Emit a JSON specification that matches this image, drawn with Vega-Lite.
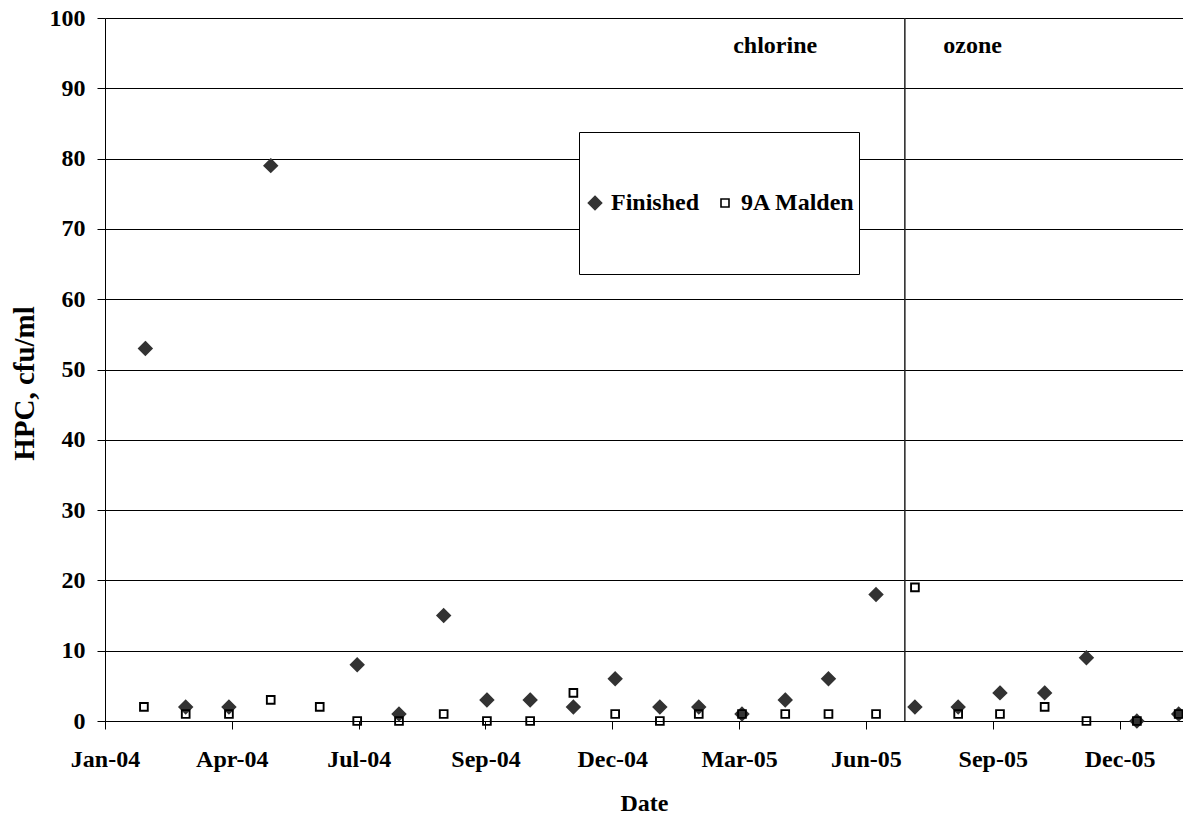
{
  "$schema": "https://vega.github.io/schema/vega-lite/v6.json",
  "width": 1078,
  "height": 703,
  "autosize": {"type": "none"},
  "padding": {"left": 105, "top": 18, "right": 0, "bottom": 95},
  "background": "white",
  "config": {
    "view": {"stroke": null},
    "font": "Liberation Serif",
    "axis": {
      "labelFont": "Liberation Serif",
      "labelFontWeight": "bold",
      "labelFontSize": 24,
      "labelColor": "black",
      "titleFont": "Liberation Serif",
      "titleFontWeight": "bold",
      "titleColor": "black",
      "domainColor": "black",
      "domainWidth": 1,
      "tickColor": "black",
      "tickWidth": 1,
      "tickSize": 8,
      "labelFlush": false,
      "labelOverlap": false
    },
    "legend": {
      "symbolSize": 64
    }
  },
  "encoding": {
    "x": {
      "field": "date",
      "type": "temporal",
      "scale": {
        "type": "utc",
        "nice": false,
        "domain": [
          {"year": 2004, "month": 1, "date": 8, "utc": true},
          {"year": 2006, "month": 1, "date": 25, "utc": true}
        ]
      },
      "axis": {
        "title": "Date",
        "titleFontSize": 24,
        "titlePadding": 20,
        "grid": false,
        "format": "%b-%y",
        "labelPadding": 18,
        "values": [
          {"year": 2004, "month": 1, "date": 8, "utc": true},
          {"year": 2004, "month": 4, "date": 5, "utc": true},
          {"year": 2004, "month": 7, "date": 2, "utc": true},
          {"year": 2004, "month": 9, "date": 28, "utc": true},
          {"year": 2004, "month": 12, "date": 25, "utc": true},
          {"year": 2005, "month": 3, "date": 23, "utc": true},
          {"year": 2005, "month": 6, "date": 19, "utc": true},
          {"year": 2005, "month": 9, "date": 15, "utc": true},
          {"year": 2005, "month": 12, "date": 12, "utc": true}
        ]
      }
    }
  },
  "layer": [
    {
      "data": {
        "values": [
          {"date": "2004-02-05", "series": "Finished", "value": 53},
          {"date": "2004-03-04", "series": "Finished", "value": 2},
          {"date": "2004-04-03", "series": "Finished", "value": 2},
          {"date": "2004-05-02", "series": "Finished", "value": 79},
          {"date": "2004-07-01", "series": "Finished", "value": 8},
          {"date": "2004-07-30", "series": "Finished", "value": 1},
          {"date": "2004-08-30", "series": "Finished", "value": 15},
          {"date": "2004-09-29", "series": "Finished", "value": 3},
          {"date": "2004-10-29", "series": "Finished", "value": 3},
          {"date": "2004-11-28", "series": "Finished", "value": 2},
          {"date": "2004-12-27", "series": "Finished", "value": 6},
          {"date": "2005-01-27", "series": "Finished", "value": 2},
          {"date": "2005-02-23", "series": "Finished", "value": 2},
          {"date": "2005-03-25", "series": "Finished", "value": 1},
          {"date": "2005-04-24", "series": "Finished", "value": 3},
          {"date": "2005-05-24", "series": "Finished", "value": 6},
          {"date": "2005-06-26", "series": "Finished", "value": 18},
          {"date": "2005-07-23", "series": "Finished", "value": 2},
          {"date": "2005-08-22", "series": "Finished", "value": 2},
          {"date": "2005-09-20", "series": "Finished", "value": 4},
          {"date": "2005-10-21", "series": "Finished", "value": 4},
          {"date": "2005-11-19", "series": "Finished", "value": 9},
          {"date": "2005-12-24", "series": "Finished", "value": 0},
          {"date": "2006-01-22", "series": "Finished", "value": 1},
          {"date": "2004-02-04", "series": "9A Malden", "value": 2},
          {"date": "2004-03-04", "series": "9A Malden", "value": 1},
          {"date": "2004-04-03", "series": "9A Malden", "value": 1},
          {"date": "2004-05-02", "series": "9A Malden", "value": 3},
          {"date": "2004-06-05", "series": "9A Malden", "value": 2},
          {"date": "2004-07-01", "series": "9A Malden", "value": 0},
          {"date": "2004-07-30", "series": "9A Malden", "value": 0},
          {"date": "2004-08-30", "series": "9A Malden", "value": 1},
          {"date": "2004-09-29", "series": "9A Malden", "value": 0},
          {"date": "2004-10-29", "series": "9A Malden", "value": 0},
          {"date": "2004-11-28", "series": "9A Malden", "value": 4},
          {"date": "2004-12-27", "series": "9A Malden", "value": 1},
          {"date": "2005-01-27", "series": "9A Malden", "value": 0},
          {"date": "2005-02-23", "series": "9A Malden", "value": 1},
          {"date": "2005-03-25", "series": "9A Malden", "value": 1},
          {"date": "2005-04-24", "series": "9A Malden", "value": 1},
          {"date": "2005-05-24", "series": "9A Malden", "value": 1},
          {"date": "2005-06-26", "series": "9A Malden", "value": 1},
          {"date": "2005-07-23", "series": "9A Malden", "value": 19},
          {"date": "2005-08-22", "series": "9A Malden", "value": 1},
          {"date": "2005-09-20", "series": "9A Malden", "value": 1},
          {"date": "2005-10-21", "series": "9A Malden", "value": 2},
          {"date": "2005-11-19", "series": "9A Malden", "value": 0},
          {"date": "2005-12-24", "series": "9A Malden", "value": 0},
          {"date": "2006-01-22", "series": "9A Malden", "value": 1}
        ]
      },
      "mark": {"type": "point", "size": 60, "strokeWidth": 1.9, "opacity": 1, "clip": false},
      "encoding": {
        "y": {
          "field": "value",
          "type": "quantitative",
          "scale": {"domain": [0, 100], "nice": false},
          "axis": {
            "title": "HPC, cfu/ml",
            "titleFontSize": 29,
            "titlePadding": 10,
            "titleY": 365,
            "grid": true,
            "gridColor": "black",
            "gridWidth": 1,
            "gridOpacity": 1,
            "labelPadding": 12,
            "values": [0, 10, 20, 30, 40, 50, 60, 70, 80, 90, 100]
          }
        },
        "shape": {
          "field": "series",
          "type": "nominal",
          "scale": {"domain": ["Finished", "9A Malden"], "range": ["M0,-1.65L1.65,0L0,1.65L-1.65,0Z", "square"]},
          "legend": {
            "title": null, "orient": "none", "legendX": 474, "legendY": 114, "direction": "horizontal",
            "padding": 4, "clipHeight": 134, "strokeColor": "black", "fillColor": "white",
            "labelFont": "Liberation Serif", "labelFontWeight": "bold", "labelFontSize": 24, "labelColor": "black",
            "labelOffset": 4, "columnPadding": 13, "symbolSize": 64, "symbolStrokeWidth": 1.6, "labelLimit": 300
          }
        },
        "fill": {
          "field": "series",
          "type": "nominal",
          "scale": {"domain": ["Finished", "9A Malden"], "range": ["#333333", "transparent"]},
          "legend": {
            "title": null, "orient": "none", "legendX": 474, "legendY": 114, "direction": "horizontal",
            "padding": 4, "clipHeight": 134, "strokeColor": "black", "fillColor": "white",
            "labelFont": "Liberation Serif", "labelFontWeight": "bold", "labelFontSize": 24, "labelColor": "black",
            "labelOffset": 4, "columnPadding": 13, "symbolSize": 64, "symbolStrokeWidth": 1.6, "labelLimit": 300
          }
        },
        "stroke": {
          "field": "series",
          "type": "nominal",
          "scale": {"domain": ["Finished", "9A Malden"], "range": ["#333333", "#000000"]},
          "legend": {
            "title": null, "orient": "none", "legendX": 474, "legendY": 114, "direction": "horizontal",
            "padding": 4, "clipHeight": 134, "strokeColor": "black", "fillColor": "white",
            "labelFont": "Liberation Serif", "labelFontWeight": "bold", "labelFontSize": 24, "labelColor": "black",
            "labelOffset": 4, "columnPadding": 13, "symbolSize": 64, "symbolStrokeWidth": 1.6, "labelLimit": 300
          }
        }
      }
    },
    {
      "data": {"values": [{"date": "2005-07-16"}]},
      "mark": {"type": "rule", "color": "#222222", "strokeWidth": 1.5},
      "encoding": {}
    },
    {
      "data": {
        "values": [
          {"date": "2005-04-17", "value": 95, "label": "chlorine"},
          {"date": "2005-09-01", "value": 95, "label": "ozone"}
        ]
      },
      "mark": {"type": "text", "font": "Liberation Serif", "fontWeight": "bold", "fontSize": 24, "align": "center", "baseline": "alphabetic", "color": "black"},
      "encoding": {
        "y": {"field": "value", "type": "quantitative"},
        "text": {"field": "label", "type": "nominal"}
      }
    }
  ]
}
